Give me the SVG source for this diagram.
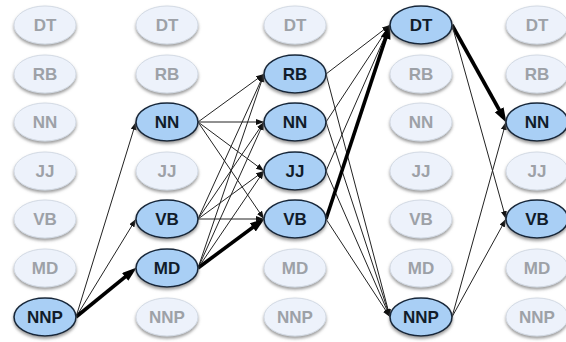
<svg xmlns="http://www.w3.org/2000/svg" width="566" height="342" viewBox="0 0 566 342">
<style>
.lt ellipse{fill:#edf2fb;stroke:#d3dae4;stroke-width:1;filter:url(#sh)}
.lt text{fill:#9da1a7}
.bl ellipse{fill:#a9cff5;stroke:#17283a;stroke-width:1.6;filter:url(#sh)}
.bl text{fill:#111c2a}
text{font-family:"Liberation Sans",Arial,sans-serif;font-weight:bold;font-size:17px;text-anchor:middle;dominant-baseline:central}
.e{stroke:#222;stroke-width:1;fill:none;marker-end:url(#a)}
.t{stroke:#000;stroke-width:3.6;fill:none;marker-end:url(#b)}
</style>
<defs>
<filter id="sh" x="-20%" y="-30%" width="140%" height="170%">
<feDropShadow dx="0" dy="2.2" stdDeviation="1.5" flood-color="#7a7a7a" flood-opacity="0.75"/>
</filter>
<marker id="a" markerUnits="userSpaceOnUse" markerWidth="9" markerHeight="7" refX="8" refY="3" orient="auto">
<path d="M0,0 L8,3 L0,6 z" fill="#111"/>
</marker>
<marker id="b" markerUnits="userSpaceOnUse" markerWidth="16" markerHeight="12" refX="6" refY="5" orient="auto">
<path d="M0,0 L15,5 L0,10 z" fill="#000"/>
</marker>
</defs>
<g id="connectors">
<line class="e" x1="76" y1="317" x2="136" y2="122"/>
<line class="e" x1="76" y1="317" x2="136" y2="219"/>
<line class="t" x1="76" y1="317" x2="129.8" y2="273.1"/>
<line class="e" x1="198" y1="122" x2="264" y2="74"/>
<line class="e" x1="198" y1="122" x2="264" y2="122"/>
<line class="e" x1="198" y1="122" x2="264" y2="171"/>
<line class="e" x1="198" y1="122" x2="264" y2="219"/>
<line class="e" x1="198" y1="219" x2="264" y2="74"/>
<line class="e" x1="198" y1="219" x2="264" y2="122"/>
<line class="e" x1="198" y1="219" x2="264" y2="171"/>
<line class="e" x1="198" y1="219" x2="264" y2="219"/>
<line class="e" x1="198" y1="268" x2="264" y2="74"/>
<line class="e" x1="198" y1="268" x2="264" y2="122"/>
<line class="e" x1="198" y1="268" x2="264" y2="171"/>
<line class="t" x1="198" y1="268" x2="257.6" y2="223.8"/>
<line class="e" x1="326" y1="74" x2="390" y2="25"/>
<line class="e" x1="326" y1="74" x2="390" y2="317"/>
<line class="e" x1="326" y1="122" x2="390" y2="25"/>
<line class="e" x1="326" y1="122" x2="390" y2="317"/>
<line class="e" x1="326" y1="171" x2="390" y2="25"/>
<line class="e" x1="326" y1="171" x2="390" y2="317"/>
<line class="t" x1="326" y1="219" x2="387.5" y2="32.6"/>
<line class="e" x1="326" y1="219" x2="390" y2="317"/>
<line class="t" x1="452" y1="25" x2="502.1" y2="115"/>
<line class="e" x1="452" y1="25" x2="506" y2="219"/>
<line class="e" x1="452" y1="317" x2="506" y2="122"/>
<line class="e" x1="452" y1="317" x2="506" y2="219"/>
</g>
<!-- column 1 -->
<g id="c1-DT" class="lt"><ellipse cx="45" cy="25" rx="31" ry="19"/><text x="45" y="25">DT</text></g>
<g id="c1-RB" class="lt"><ellipse cx="45" cy="74" rx="31" ry="19"/><text x="45" y="74">RB</text></g>
<g id="c1-NN" class="lt"><ellipse cx="45" cy="122" rx="31" ry="19"/><text x="45" y="122">NN</text></g>
<g id="c1-JJ" class="lt"><ellipse cx="45" cy="171" rx="31" ry="19"/><text x="45" y="171">JJ</text></g>
<g id="c1-VB" class="lt"><ellipse cx="45" cy="219" rx="31" ry="19"/><text x="45" y="219">VB</text></g>
<g id="c1-MD" class="lt"><ellipse cx="45" cy="268" rx="31" ry="19"/><text x="45" y="268">MD</text></g>
<g id="c1-NNP" class="bl"><ellipse cx="45" cy="317" rx="31" ry="19"/><text x="45" y="317">NNP</text></g>
<!-- column 2 -->
<g id="c2-DT" class="lt"><ellipse cx="167" cy="25" rx="31" ry="19"/><text x="167" y="25">DT</text></g>
<g id="c2-RB" class="lt"><ellipse cx="167" cy="74" rx="31" ry="19"/><text x="167" y="74">RB</text></g>
<g id="c2-NN" class="bl"><ellipse cx="167" cy="122" rx="31" ry="19"/><text x="167" y="122">NN</text></g>
<g id="c2-JJ" class="lt"><ellipse cx="167" cy="171" rx="31" ry="19"/><text x="167" y="171">JJ</text></g>
<g id="c2-VB" class="bl"><ellipse cx="167" cy="219" rx="31" ry="19"/><text x="167" y="219">VB</text></g>
<g id="c2-MD" class="bl"><ellipse cx="167" cy="268" rx="31" ry="19"/><text x="167" y="268">MD</text></g>
<g id="c2-NNP" class="lt"><ellipse cx="167" cy="317" rx="31" ry="19"/><text x="167" y="317">NNP</text></g>
<!-- column 3 -->
<g id="c3-DT" class="lt"><ellipse cx="295" cy="25" rx="31" ry="19"/><text x="295" y="25">DT</text></g>
<g id="c3-RB" class="bl"><ellipse cx="295" cy="74" rx="31" ry="19"/><text x="295" y="74">RB</text></g>
<g id="c3-NN" class="bl"><ellipse cx="295" cy="122" rx="31" ry="19"/><text x="295" y="122">NN</text></g>
<g id="c3-JJ" class="bl"><ellipse cx="295" cy="171" rx="31" ry="19"/><text x="295" y="171">JJ</text></g>
<g id="c3-VB" class="bl"><ellipse cx="295" cy="219" rx="31" ry="19"/><text x="295" y="219">VB</text></g>
<g id="c3-MD" class="lt"><ellipse cx="295" cy="268" rx="31" ry="19"/><text x="295" y="268">MD</text></g>
<g id="c3-NNP" class="lt"><ellipse cx="295" cy="317" rx="31" ry="19"/><text x="295" y="317">NNP</text></g>
<!-- column 4 -->
<g id="c4-DT" class="bl"><ellipse cx="421" cy="25" rx="31" ry="19"/><text x="421" y="25">DT</text></g>
<g id="c4-RB" class="lt"><ellipse cx="421" cy="74" rx="31" ry="19"/><text x="421" y="74">RB</text></g>
<g id="c4-NN" class="lt"><ellipse cx="421" cy="122" rx="31" ry="19"/><text x="421" y="122">NN</text></g>
<g id="c4-JJ" class="lt"><ellipse cx="421" cy="171" rx="31" ry="19"/><text x="421" y="171">JJ</text></g>
<g id="c4-VB" class="lt"><ellipse cx="421" cy="219" rx="31" ry="19"/><text x="421" y="219">VB</text></g>
<g id="c4-MD" class="lt"><ellipse cx="421" cy="268" rx="31" ry="19"/><text x="421" y="268">MD</text></g>
<g id="c4-NNP" class="bl"><ellipse cx="421" cy="317" rx="31" ry="19"/><text x="421" y="317">NNP</text></g>
<!-- column 5 -->
<g id="c5-DT" class="lt"><ellipse cx="537" cy="25" rx="31" ry="19"/><text x="537" y="25">DT</text></g>
<g id="c5-RB" class="lt"><ellipse cx="537" cy="74" rx="31" ry="19"/><text x="537" y="74">RB</text></g>
<g id="c5-NN" class="bl"><ellipse cx="537" cy="122" rx="31" ry="19"/><text x="537" y="122">NN</text></g>
<g id="c5-JJ" class="lt"><ellipse cx="537" cy="171" rx="31" ry="19"/><text x="537" y="171">JJ</text></g>
<g id="c5-VB" class="bl"><ellipse cx="537" cy="219" rx="31" ry="19"/><text x="537" y="219">VB</text></g>
<g id="c5-MD" class="lt"><ellipse cx="537" cy="268" rx="31" ry="19"/><text x="537" y="268">MD</text></g>
<g id="c5-NNP" class="lt"><ellipse cx="537" cy="317" rx="31" ry="19"/><text x="537" y="317">NNP</text></g>
</svg>
